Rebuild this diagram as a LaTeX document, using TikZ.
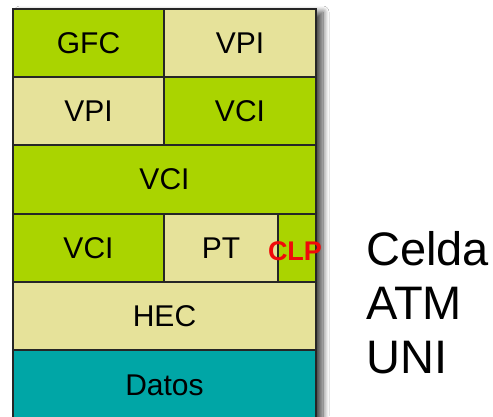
\documentclass[tikz,border=0pt]{standalone}
\usepackage{fontspec}
\setmainfont{Liberation Sans}
\usetikzlibrary{shadows.blur}
\definecolor{limecell}{RGB}{170,212,0}
\definecolor{beigecell}{RGB}{230,226,154}
\definecolor{tealcell}{RGB}{0,166,166}
\definecolor{clpred}{RGB}{240,10,10}
\begin{document}
\begin{tikzpicture}[x=1pt,y=-1pt,
  cell/.style={draw=black!85, line width=1.6pt, rectangle, inner sep=0pt,
    minimum height=68pt, font=\fontsize{30}{30}\selectfont},
  green/.style={cell, fill=limecell},
  pale/.style={cell, fill=beigecell},
  sea/.style={cell, fill=tealcell},
  clplabel/.style={text=clpred, font=\bfseries\fontsize{27}{27}\selectfont, inner sep=0pt},
  side/.style={align=left, inner sep=0pt, anchor=west, font=\fontsize{47}{54}\selectfont}]
\useasboundingbox (0,0) rectangle (493,416);
\clip (0,0) rectangle (493,416);
\fill[white] (0,0) rectangle (493,416);
% shadow
\path[fill=white, blur shadow={shadow xshift=7pt, shadow yshift=-3pt, shadow blur steps=10, shadow blur radius=6pt, shadow opacity=70}] (13,9) rectangle (316,430);
% row 1
\node[green, minimum width=151pt] (gfc) at (88.5,43) {GFC};
\node[pale, minimum width=152pt] (vpi1) at (240,43) {VPI};
% row 2
\node[pale, minimum width=151pt] (vpi2) at (88.5,111) {VPI};
\node[green, minimum width=152pt] (vci1) at (240,111) {VCI};
% row 3
\node[green, minimum width=303pt] (vci2) at (164.5,179.5) {VCI};
% row 4
\node[green, minimum width=151pt] (vci3) at (88.5,248) {VCI};
\node[pale, minimum width=114pt] (pt) at (221,248) {PT};
\node[green, minimum width=38pt] (clpcell) at (297,248) {};
\node[clplabel] (clp) at (295,251) {CLP};
% row 5
\node[pale, minimum width=303pt] (hec) at (164.5,316) {HEC};
% row 6
\node[sea, minimum width=303pt, minimum height=72pt] (datos) at (164.5,386) {};
\node[font=\fontsize{30}{30}\selectfont, inner sep=0pt] (datostxt) at (164.5,385) {Datos};
% side label
\node[side] (celda) at (366,303) {Celda\\ATM\\UNI};
\end{tikzpicture}
\end{document}
